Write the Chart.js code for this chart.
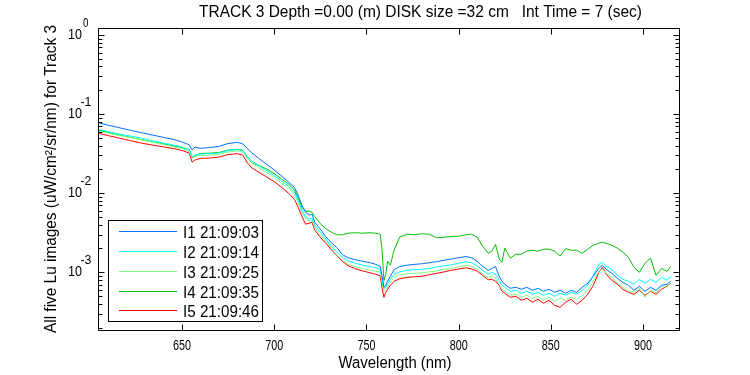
<!DOCTYPE html>
<html>
<head>
<meta charset="utf-8">
<script src="https://cdn.jsdelivr.net/npm/chart.js@4.4.1/dist/chart.umd.min.js"></script>
<style>
  html, body { margin: 0; padding: 0; background: #ffffff; }
  #wrap { width: 750px; height: 375px; }
  canvas { display: block; }
</style>
</head>
<body>
<div id="wrap"><canvas id="c" width="750" height="375"></canvas></div>
<script>
// ---------- data ----------
const wavelengths = [
  605, 610, 616, 622, 628, 634, 640, 646, 651, 654,
  655.5, 657, 660, 665, 670, 675, 680, 683, 685.5, 688,
  692, 696, 700, 704, 708, 711, 713, 715, 717, 719,
  720.5, 722, 725, 728, 731, 734, 737, 740, 744, 748,
  752, 755, 757.5, 758.5, 759.5, 760.5, 761.5, 763, 765, 768,
  772, 776, 780, 784, 788, 792, 796, 800, 804, 807,
  810, 813, 816, 818, 820, 822, 823.5, 825, 828, 831,
  834, 837, 840, 843, 846, 849, 852, 855, 858, 861,
  864, 867, 870, 873, 876, 878, 880, 883, 886, 889,
  892, 895, 898, 901, 904, 907, 910, 913, 915
];

const lu1 = [
  0.0776, 0.0724, 0.0673, 0.0624, 0.0582, 0.0543, 0.0508, 0.0475, 0.0436, 0.0408,
  0.0351, 0.0383, 0.0369, 0.0377, 0.0391, 0.0424, 0.0439, 0.0420, 0.0366, 0.0321,
  0.0272, 0.0231, 0.0197, 0.0165, 0.0137, 0.0118, 0.00943, 0.00705, 0.00575, 0.00527,
  0.00543, 0.00430, 0.00351, 0.00282, 0.00236, 0.00205, 0.00167, 0.00153, 0.00144, 0.00138,
  0.00132, 0.00126, 0.00119, 8.90e-4, 6.46e-4, 6.85e-4, 7.70e-4, 8.90e-4, 1.08e-3, 1.18e-3,
  1.23e-3, 1.26e-3, 1.28e-3, 1.32e-3, 1.36e-3, 1.42e-3, 1.47e-3, 1.53e-3, 1.58e-3, 1.53e-3,
  1.38e-3, 1.19e-3, 1.06e-3, 1.12e-3, 1.18e-3, 8.90e-4, 7.70e-4, 7.05e-4, 6.28e-4, 6.46e-4,
  6.10e-4, 6.46e-4, 5.92e-4, 6.28e-4, 5.75e-4, 6.10e-4, 5.59e-4, 5.92e-4, 5.43e-4, 5.92e-4,
  5.59e-4, 6.46e-4, 7.26e-4, 8.90e-4, 1.12e-3, 1.23e-3, 1.09e-3, 9.71e-4, 8.40e-4, 7.47e-4,
  6.85e-4, 5.92e-4, 6.65e-4, 5.75e-4, 6.46e-4, 5.92e-4, 6.85e-4, 7.05e-4, 7.70e-4
];

const lu2 = [
  0.0637, 0.0601, 0.0559, 0.0527, 0.0497, 0.0462, 0.0430, 0.0402, 0.0377, 0.0353,
  0.0290, 0.0303, 0.0312, 0.0316, 0.0321, 0.0346, 0.0356, 0.0346, 0.0294, 0.0254,
  0.0220, 0.0193, 0.0167, 0.0142, 0.0121, 0.0103, 0.00816, 0.00610, 0.00512, 0.00469,
  0.00483, 0.00394, 0.00321, 0.00262, 0.00214, 0.00180, 0.00155, 0.00140, 0.00130, 0.00123,
  0.00118, 0.00114, 0.00109, 8.16e-4, 6.28e-4, 6.46e-4, 7.26e-4, 8.16e-4, 9.43e-4, 1.01e-3,
  1.06e-3, 1.08e-3, 1.09e-3, 1.12e-3, 1.16e-3, 1.21e-3, 1.24e-3, 1.30e-3, 1.36e-3, 1.32e-3,
  1.21e-3, 1.06e-3, 9.43e-4, 1.00e-3, 9.43e-4, 7.92e-4, 6.85e-4, 6.46e-4, 5.75e-4, 5.92e-4,
  5.43e-4, 5.75e-4, 5.27e-4, 5.59e-4, 5.12e-4, 5.43e-4, 4.97e-4, 5.43e-4, 5.12e-4, 5.59e-4,
  5.27e-4, 5.92e-4, 6.85e-4, 9.16e-4, 1.26e-3, 1.34e-3, 1.19e-3, 1.09e-3, 9.16e-4, 8.16e-4,
  7.70e-4, 7.05e-4, 8.16e-4, 7.26e-4, 8.16e-4, 7.47e-4, 8.65e-4, 7.92e-4, 8.90e-4
];

const lu3 = [
  0.0610, 0.0575, 0.0535, 0.0505, 0.0476, 0.0443, 0.0412, 0.0383, 0.0361, 0.0336,
  0.0278, 0.0290, 0.0298, 0.0303, 0.0307, 0.0331, 0.0341, 0.0331, 0.0278, 0.0240,
  0.0208, 0.0182, 0.0158, 0.0134, 0.0114, 0.00971, 0.00770, 0.00575, 0.00483, 0.00443,
  0.00456, 0.00372, 0.00298, 0.00247, 0.00202, 0.00165, 0.00142, 0.00126, 0.00118, 0.00111,
  0.00106, 0.00103, 1.00e-3, 7.47e-4, 5.75e-4, 5.92e-4, 6.65e-4, 7.47e-4, 8.65e-4, 9.30e-4,
  9.57e-4, 9.71e-4, 9.86e-4, 1.01e-3, 1.04e-3, 1.09e-3, 1.12e-3, 1.17e-3, 1.23e-3, 1.19e-3,
  1.09e-3, 9.57e-4, 8.52e-4, 8.90e-4, 8.40e-4, 7.05e-4, 6.10e-4, 5.75e-4, 5.12e-4, 5.27e-4,
  4.83e-4, 5.12e-4, 4.69e-4, 4.97e-4, 4.43e-4, 4.83e-4, 4.30e-4, 4.69e-4, 4.43e-4, 4.83e-4,
  4.56e-4, 5.12e-4, 5.92e-4, 7.70e-4, 1.03e-3, 1.09e-3, 9.71e-4, 8.65e-4, 7.26e-4, 6.46e-4,
  5.92e-4, 5.59e-4, 6.28e-4, 4.83e-4, 5.92e-4, 5.43e-4, 6.65e-4, 6.46e-4, 7.26e-4
];

const lu4 = [
  0.0628, 0.0584, 0.0543, 0.0508, 0.0475, 0.0445, 0.0420, 0.0394, 0.0372, 0.0356,
  0.0278, 0.0298, 0.0318, 0.0321, 0.0326, 0.0351, 0.0358, 0.0351, 0.0278, 0.0240,
  0.0223, 0.0202, 0.0177, 0.0151, 0.0130, 0.0109, 0.00865, 0.00665, 0.00592, 0.00592,
  0.00575, 0.00505, 0.00412, 0.00356, 0.00321, 0.00298, 0.00298, 0.00312, 0.00316, 0.00312,
  0.00316, 0.00312, 0.00303, 0.00190, 7.92e-4, 9.43e-4, 1.38e-3, 1.23e-3, 1.90e-3, 2.78e-3,
  3.03e-3, 2.98e-3, 3.07e-3, 3.03e-3, 2.74e-3, 2.78e-3, 2.82e-3, 2.86e-3, 2.98e-3, 3.03e-3,
  2.78e-3, 2.14e-3, 1.74e-3, 1.85e-3, 2.26e-3, 1.47e-3, 1.34e-3, 2.02e-3, 1.51e-3, 1.69e-3,
  1.69e-3, 1.85e-3, 1.90e-3, 1.85e-3, 1.96e-3, 1.96e-3, 1.85e-3, 1.60e-3, 1.99e-3, 1.90e-3,
  1.90e-3, 1.74e-3, 1.96e-3, 2.20e-3, 2.33e-3, 2.40e-3, 2.33e-3, 2.20e-3, 2.02e-3, 1.80e-3,
  1.55e-3, 1.16e-3, 1.00e-3, 1.30e-3, 1.51e-3, 9.16e-4, 1.12e-3, 1.03e-3, 1.19e-3
];

const lu5 = [
  0.0570, 0.0535, 0.0497, 0.0462, 0.0430, 0.0406, 0.0385, 0.0365, 0.0341, 0.0321,
  0.0247, 0.0262, 0.0276, 0.0278, 0.0286, 0.0307, 0.0316, 0.0303, 0.0240, 0.0208,
  0.0182, 0.0160, 0.0140, 0.0119, 0.00986, 0.00840, 0.00665, 0.00512, 0.00406, 0.00418,
  0.00430, 0.00341, 0.00278, 0.00233, 0.00193, 0.00162, 0.00138, 0.00121, 0.00111, 0.00104,
  9.86e-4, 9.43e-4, 9.03e-4, 6.28e-4, 4.83e-4, 5.59e-4, 6.10e-4, 6.85e-4, 7.70e-4, 8.27e-4,
  8.65e-4, 8.77e-4, 8.90e-4, 9.30e-4, 9.71e-4, 1.01e-3, 1.06e-3, 1.10e-3, 1.14e-3, 1.10e-3,
  1.04e-3, 9.16e-4, 8.04e-4, 8.16e-4, 7.70e-4, 6.85e-4, 5.75e-4, 5.43e-4, 4.83e-4, 4.97e-4,
  4.43e-4, 4.69e-4, 4.18e-4, 4.56e-4, 4.06e-4, 4.43e-4, 3.83e-4, 3.61e-4, 4.18e-4, 4.56e-4,
  3.94e-4, 4.43e-4, 5.27e-4, 6.85e-4, 1.00e-3, 1.16e-3, 9.43e-4, 7.92e-4, 7.05e-4, 6.10e-4,
  5.59e-4, 5.27e-4, 5.92e-4, 5.12e-4, 5.75e-4, 5.27e-4, 6.10e-4, 6.65e-4, 7.26e-4
];

const seriesNames = ['I1 21:09:03', 'I2 21:09:14', 'I3 21:09:25', 'I4 21:09:35', 'I5 21:09:46'];
const seriesColors = ['#0070ff', '#00ffff', '#80ff80', '#00c000', '#ff0000'];

const xTicks = [650, 700, 750, 800, 850, 900];
const yDecades = [1, 0.1, 0.01, 0.001];
const yExponents = ['0', '-1', '-2', '-3'];

const titleText = 'TRACK 3 Depth =0.00 (m) DISK size =32 cm   Int Time = 7 (sec)';
const xTitle = 'Wavelength (nm)';
const yTitle = 'All five Lu images (uW/cm\u00B2/sr/nm) for Track 3';

const xRange = [604.5, 920];
const yRange = [1.81e-4, 1.226];

// ---------- chart ----------
const allSeries = [lu1, lu2, lu3, lu4, lu5];
const datasets = allSeries.map((vals, i) => ({
  label: seriesNames[i],
  data: wavelengths.map((w, j) => ({ x: w, y: vals[j] })),
  borderColor: seriesColors[i],
  backgroundColor: seriesColors[i],
  borderWidth: 1,
  pointRadius: 0,
  tension: 0,
  fill: false
}));

const FONT = "'Liberation Sans Narrow', 'Liberation Sans', Arial, sans-serif";

const decorPlugin = {
  id: 'decor',
  afterDraw(chart) {
    const ctx = chart.ctx;
    const { left, right, top, bottom } = chart.chartArea;
    const xs = chart.scales.x, ys = chart.scales.y;
    const L = Math.round(left) + 0.5, R = Math.round(right) - 0.5;
    const T = Math.round(top) + 0.5, B = Math.round(bottom) - 0.5;
    ctx.save();
    ctx.strokeStyle = '#000';
    ctx.lineWidth = 1;
    ctx.beginPath();
    ctx.rect(L, T, R - L, B - T);
    ctx.stroke();

    // x ticks (inward, bottom and top)
    ctx.beginPath();
    xTicks.forEach(v => {
      const px = Math.round(xs.getPixelForValue(v)) + 0.5;
      ctx.moveTo(px, B); ctx.lineTo(px, B - 6);
      ctx.moveTo(px, T); ctx.lineTo(px, T + 6);
    });
    // y ticks (major and minor), left and right
    for (let e = -4; e <= 0; e++) {
      for (let m = 1; m <= 9; m++) {
        const v = m * Math.pow(10, e);
        if (v < yRange[0] || v > yRange[1]) continue;
        const py = Math.round(ys.getPixelForValue(v)) + 0.5;
        const len = m === 1 ? 6 : 4;
        ctx.moveTo(L, py); ctx.lineTo(L + len, py);
        ctx.moveTo(R, py); ctx.lineTo(R - len, py);
      }
    }
    ctx.stroke();

    ctx.fillStyle = '#000';
    // x tick labels
    ctx.font = '14px ' + FONT;
    ctx.textAlign = 'center';
    ctx.textBaseline = 'alphabetic';
    xTicks.forEach(v => {
      ctx.fillText(String(v), xs.getPixelForValue(v), 350, 18);
    });
    // y tick labels: 10 with exponent
    yDecades.forEach((v, i) => {
      const py = ys.getPixelForValue(v);
      ctx.font = '14px ' + FONT;
      ctx.textAlign = 'right';
      ctx.textBaseline = 'middle';
      ctx.fillText('10', 82, py, 14);
      ctx.font = '13px ' + FONT;
      ctx.textAlign = 'left';
      const ex = yExponents[i];
      ctx.fillText(ex, ex === '0' ? 83 : 80.5, py - 11.5, ex.length * 5.5);
    });

    // title
    ctx.font = '16px ' + FONT;
    ctx.textAlign = 'left';
    ctx.textBaseline = 'alphabetic';
    ctx.fillText(titleText, 199, 17, 443);
    // x title
    ctx.textAlign = 'center';
    ctx.fillText(xTitle, 395, 367.5, 113);
    // y title
    ctx.save();
    ctx.translate(55.5, 179);
    ctx.rotate(-Math.PI / 2);
    ctx.textAlign = 'center';
    ctx.fillText(yTitle, 0, 0, 308);
    ctx.restore();

    // legend
    const bx = 108.5, by = 220.5, bw = 154, bh = 101;
    ctx.fillStyle = '#fff';
    ctx.fillRect(bx, by, bw, bh);
    ctx.strokeStyle = '#000';
    ctx.strokeRect(bx, by, bw, bh);
    const rows = [231, 251, 271, 291, 310];
    seriesNames.forEach((name, i) => {
      ctx.fillStyle = seriesColors[i];
      ctx.fillRect(119, rows[i], 58, 1);
      ctx.fillStyle = '#000';
      ctx.font = '16px ' + FONT;
      ctx.textAlign = 'left';
      ctx.textBaseline = 'alphabetic';
      ctx.fillText(name, 183, rows[i] + 7, 76);
    });
    ctx.restore();
  }
};

new Chart(document.getElementById('c'), {
  type: 'line',
  data: { datasets },
  options: {
    responsive: false,
    devicePixelRatio: 1,
    animation: false,
    layout: { padding: { left: 98, right: 70, top: 28, bottom: 44 } },
    plugins: { legend: { display: false }, tooltip: { enabled: false }, title: { display: false } },
    scales: {
      x: { type: 'linear', min: xRange[0], max: xRange[1], display: false },
      y: { type: 'logarithmic', min: yRange[0], max: yRange[1], display: false }
    }
  },
  plugins: [decorPlugin]
});
</script>
</body>
</html>
